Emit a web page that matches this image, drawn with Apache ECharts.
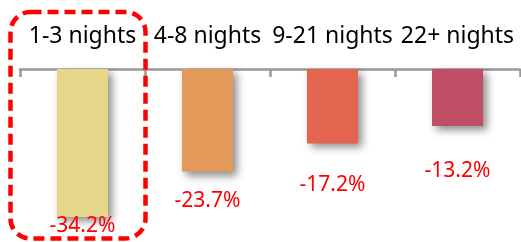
<!DOCTYPE html>
<html>
<head>
<meta charset="utf-8">
<script src="https://cdn.jsdelivr.net/npm/echarts@6/dist/echarts.min.js"></script>
<style>
	html, body { margin: 0; padding: 0; background: #fff; }
	#chartDiv { width: 521px; height: 242px; }
</style>
</head>
<body>
<div id="chartDiv"></div>
<script>
	// data
	var categories = ['1-3 nights', '4-8 nights', '9-21 nights', '22+ nights'];
	var changes = [-34.2, -23.7, -17.2, -13.2];
	var barColors = ['#e6d68a', '#e3995a', '#e3654f', '#c04f66'];
	// label gap below each bar end (px)
	var labelGaps = [-1, 19, 31, 34];

	var seriesData = changes.map(function (v, i) {
		return {
			value: v,
			itemStyle: { color: barColors[i] },
			label: { distance: labelGaps[i] }
		};
	});

	var chart = echarts.init(document.getElementById('chartDiv'));
	chart.setOption({
		animation: false,
		grid: { left: 20, right: 1, top: 69, height: 173 },
		xAxis: {
			type: 'category',
			position: 'top',
			data: categories,
			axisLine: { lineStyle: { color: '#999', width: 2.5 } },
			axisTick: { show: true, inside: true, length: 8, lineStyle: { color: '#999', width: 2.5 } },
			axisLabel: {
				interval: 0,
				hideOverlap: false,
				color: '#000',
				fontSize: 23,
				fontFamily: 'Noto Sans',
				margin: 21
			}
		},
		yAxis: {
			type: 'value',
			min: -40,
			max: 0,
			show: false,
			splitLine: { show: false }
		},
		series: [{
			type: 'bar',
			data: seriesData,
			barWidth: 51,
			itemStyle: {
				shadowColor: 'rgba(0,0,0,0.45)',
				shadowBlur: 8,
				shadowOffsetX: 4,
				shadowOffsetY: 4
			},
			label: {
				show: true,
				position: 'bottom',
				color: '#ff0000',
				fontSize: 21,
				fontFamily: 'Noto Sans',
				formatter: function (p) { return p.value.toFixed(1) + '%'; }
			}
		}],
		graphic: [{
			type: 'rect',
			shape: { x: 10.5, y: 12, width: 135, height: 226.5, r: 20 },
			style: { fill: 'none', stroke: '#ff0000', lineWidth: 4.5, lineDash: [11, 6] },
			z: 100
		}]
	});
</script>
</body>
</html>
